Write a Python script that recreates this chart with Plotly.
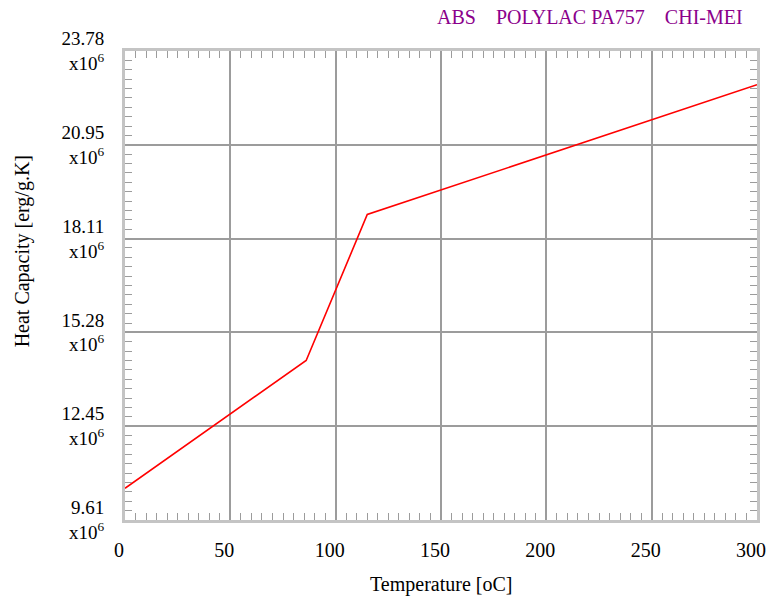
import plotly.graph_objects as go

# Heat capacity of ABS (POLYLAC PA757, CHI-MEI) vs temperature
temperature_c = [0, 86, 115, 300]
heat_capacity_e6 = [10.57, 14.43, 18.84, 22.76]   # erg/g.K, in units of 1e6

x_ticks = [0, 50, 100, 150, 200, 250, 300]
y_ticks = [9.61, 12.45, 15.28, 18.11, 20.95, 23.78]
y_tick_text = [f"{v:.2f}<br>x10<sup>6</sup>" for v in y_ticks]

FONT = "Liberation Serif"
FRAME = "#c4c4c4"
GRID = "#9c9c9c"

fig = go.Figure()
fig.add_trace(go.Scatter(
    x=temperature_c, y=heat_capacity_e6, mode="lines",
    line=dict(color="#ff0000", width=1.6), showlegend=False,
))

fig.update_layout(
    width=766, height=603,
    margin=dict(l=125, r=9, t=51, b=83, autoexpand=False),
    paper_bgcolor="white", plot_bgcolor="white",
    font=dict(family=FONT, size=20, color="black"),
)

fig.update_xaxes(
    range=[0, 300], tickvals=x_ticks, ticktext=[str(v) for v in x_ticks],
    showgrid=True, gridcolor=GRID, gridwidth=2,
    showline=True, linecolor=FRAME, linewidth=3, mirror="ticks",
    ticks="inside", ticklen=7, tickcolor=GRID, tickwidth=1,
    minor=dict(dtick=5, ticks="inside", ticklen=7, tickcolor=GRID, tickwidth=1, showgrid=False),
    ticklabelshift=-6, ticklabelstandoff=10, automargin=False,
    tickfont=dict(family=FONT, size=20), zeroline=False,
)
fig.update_yaxes(
    range=[y_ticks[0], y_ticks[-1]], tickvals=y_ticks, ticktext=y_tick_text,
    showgrid=True, gridcolor=GRID, gridwidth=2,
    showline=True, linecolor=FRAME, linewidth=3, mirror="ticks",
    ticks="inside", ticklen=7, tickcolor=GRID, tickwidth=1,
    minor=dict(tick0=y_ticks[0], dtick=(y_ticks[-1] - y_ticks[0]) / 50, ticks="inside",
               ticklen=7, tickcolor=GRID, tickwidth=1, showgrid=False),
    ticklabelstandoff=14, automargin=False,
    tickfont=dict(family=FONT, size=19), zeroline=False,
)

fig.add_annotation(
    text="ABS&nbsp;&nbsp;&nbsp;&nbsp;POLYLAC PA757&nbsp;&nbsp;&nbsp;&nbsp;CHI-MEI",
    xref="paper", yref="paper", x=0.981, y=1.0715,
    xanchor="right", yanchor="middle", showarrow=False,
    font=dict(family=FONT, size=20, color="#8b008b"),
)
fig.add_annotation(
    text="Temperature [oC]", xref="paper", yref="paper", x=0.50, y=-0.1366,
    xanchor="center", yanchor="middle", showarrow=False,
    font=dict(family=FONT, size=20),
)
fig.add_annotation(
    text="Heat Capacity [erg/g.K]", xref="paper", yref="paper", x=-0.162, y=0.572,
    xanchor="center", yanchor="middle", textangle=-90, showarrow=False,
    font=dict(family=FONT, size=20),
)

fig.write_html("out.html")
